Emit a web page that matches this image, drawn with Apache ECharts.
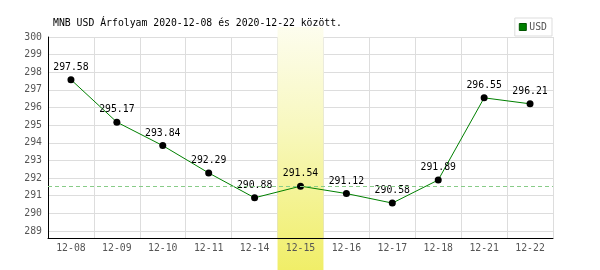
<!DOCTYPE html>
<html>
<head>
<meta charset="utf-8">
<script src="https://cdn.jsdelivr.net/npm/echarts@6/dist/echarts.min.js"></script>
<style>html,body{margin:0;padding:0;background:#fff}#c{width:600px;height:270px}</style>
</head>
<body>
<div id="c"></div>
<script>
const titleText = 'MNB USD Árfolyam 2020-12-08 és 2020-12-22 között.';
const seriesName = 'USD';
const categories = ['12-08','12-09','12-10','12-11','12-14','12-15','12-16','12-17','12-18','12-21','12-22'];
const usdValues = [297.58, 295.17, 293.84, 292.29, 290.88, 291.54, 291.12, 290.58, 291.89, 296.55, 296.21];
const highlightCategories = ['12-15'];
const referenceValue = 291.54;
const yMin = 288.6;
const yMax = 300;

const FONT = '"DejaVu Sans Mono", monospace';
const chart = echarts.init(document.getElementById('c'), null, {renderer: 'canvas'});
chart.setOption({
  animation: false,
  backgroundColor: '#ffffff',
  title: {
    text: titleText,
    left: 48,
    top: 13,
    textStyle: {fontFamily: FONT, fontSize: 9.8, fontWeight: 'normal', color: '#000'}
  },
  legend: {
    data: [{name: seriesName, itemStyle: {color: '#008000', borderColor: '#005500', borderWidth: 1}}],
    right: 48,
    top: 18,
    itemWidth: 7,
    itemHeight: 7,
    itemGap: 4,
    padding: [4, 5, 4, 4],
    backgroundColor: '#fff',
    borderColor: '#dddddd',
    borderWidth: 1,
    icon: 'rect',
    textStyle: {fontFamily: FONT, fontSize: 9.8, color: '#555', padding: [0, 0, 0, -2]}
  },
  grid: {left: 48, right: 47, top: 37, bottom: 32, containLabel: false},
  xAxis: [{
    type: 'category',
    data: categories,
    boundaryGap: true,
    z: 0,
    axisLine: {show: false},
    axisTick: {show: false},
    axisLabel: {show: false},
    splitLine: {show: true, lineStyle: {color: '#dddddd', width: 1}}
  }, {
    type: 'category',
    data: categories,
    position: 'bottom',
    boundaryGap: true,
    z: 5,
    axisLine: {show: true, lineStyle: {color: '#000', width: 1}},
    axisTick: {show: false},
    axisLabel: {margin: 5, fontFamily: FONT, fontSize: 9.8, color: '#555'},
    splitLine: {show: false}
  }],
  yAxis: {
    type: 'value',
    min: yMin,
    max: yMax,
    minInterval: 1,
    maxInterval: 1,
    z: 0,
    axisLine: {show: true, lineStyle: {color: '#000', width: 1}},
    axisTick: {show: false},
    axisLabel: {
      margin: 6, fontFamily: FONT, fontSize: 9.8, color: '#555', showMinLabel: false,
      formatter: v => (Math.abs(v - Math.round(v)) < 1e-6 ? String(Math.round(v)) : '')
    },
    splitLine: {show: true, lineStyle: {color: '#dddddd', width: 1}}
  },
  series: [{
    type: 'custom',
    name: 'highlight',
    xAxisIndex: 0,
    z: 1,
    silent: true,
    clip: false,
    data: highlightCategories.map(c => [c]),
    encode: {x: 0},
    renderItem: function (params, api) {
      const top = api.coord([api.value(0), yMax]);
      const w = api.size([1, 0])[0];
      const y0 = top[1] - 10;
      const y1 = api.getHeight();
      return {
        type: 'rect',
        shape: {x: top[0] - w / 2, y: y0, width: w, height: y1 - y0},
        style: {
          fill: {
            type: 'linear', x: 0, y: 0, x2: 0, y2: 1,
            colorStops: [
              {offset: 0, color: '#fdfdee'},
              {offset: 0.4, color: '#f8f8c0'},
              {offset: 1, color: '#f0ee68'}
            ]
          }
        }
      };
    }
  }, {
    type: 'line',
    name: seriesName,
    xAxisIndex: 0,
    z: 3,
    data: usdValues,
    color: '#008000',
    symbol: 'circle',
    symbolSize: 7,
    itemStyle: {color: '#000'},
    lineStyle: {color: '#008000', width: 1},
    label: {
      show: true,
      position: 'top',
      distance: 4,
      fontFamily: FONT,
      fontSize: 9.8,
      color: '#000',
      formatter: p => p.value.toFixed(2)
    },
    markLine: {
      silent: true,
      symbol: ['none', 'none'],
      label: {show: false},
      lineStyle: {color: '#88cc88', type: [4, 3], width: 1},
      data: [{yAxis: referenceValue}]
    }
  }]
});
</script>
</body>
</html>
